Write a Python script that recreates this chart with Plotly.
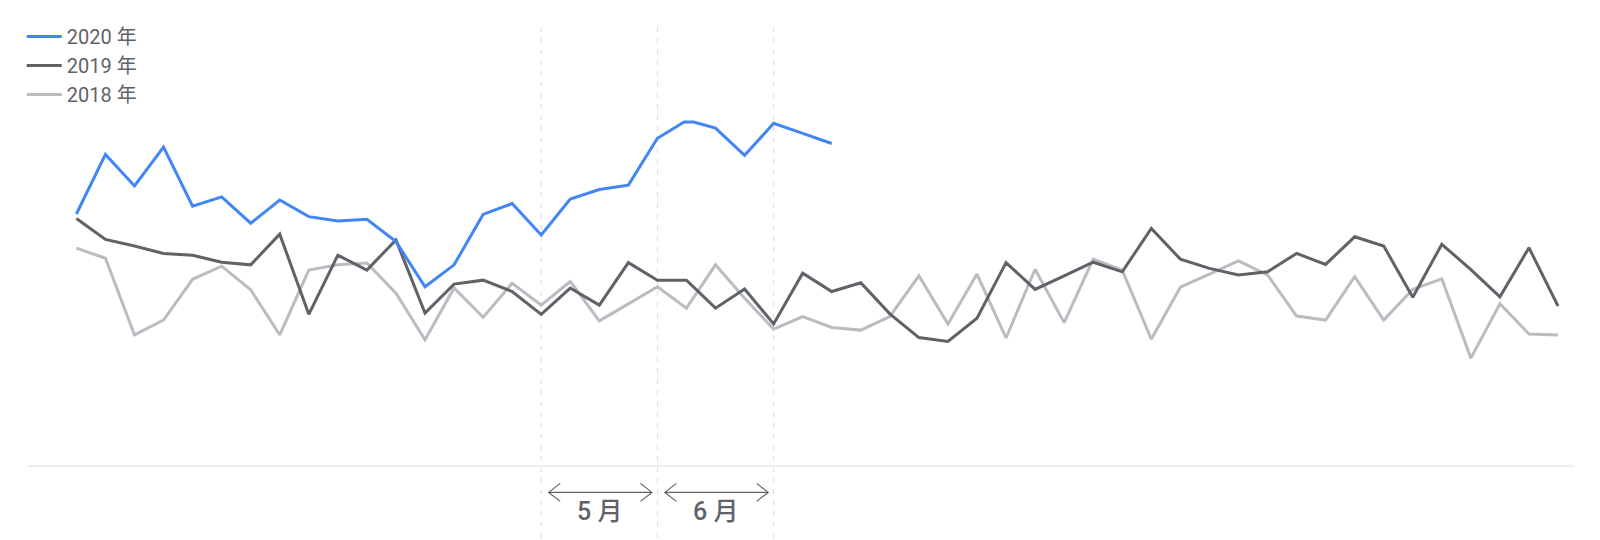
import plotly.graph_objects as go

# ---- data (weekly index, value on 0-100 scale) ----
weeks_2020 = [0, 1, 2, 3, 4, 5, 6, 7, 8, 9, 10, 11, 12, 13, 14, 15, 16, 17, 18, 19, 20,
              20.92, 21.25, 22, 23, 24, 25, 26]
values_2020 = [57.3, 70.9, 63.7, 72.6, 59.1, 61.2, 55.2, 60.5, 56.7, 55.7, 56.1, 51.0,
               40.7, 45.7, 57.2, 59.7, 52.5, 60.7, 62.9, 63.9, 74.6, 78.3, 78.3, 76.9,
               70.7, 78.0, 75.7, 73.4]

weeks = list(range(52))
values_2019 = [56.3, 51.5, 50.0, 48.3, 47.9, 46.3, 45.7, 52.7, 34.4, 47.9, 44.5, 51.4,
               34.7, 41.3, 42.2, 39.6, 34.4, 40.4, 36.5, 46.2, 42.2, 42.2, 35.8, 40.2,
               32.2, 43.8, 39.6, 41.6, 34.5, 29.1, 28.2, 33.5, 46.2, 40.1, 43.2, 46.3,
               44.1, 54.0, 47.0, 44.9, 43.4, 44.1, 48.3, 45.8, 52.1, 50.0, 38.3, 50.4,
               44.6, 38.4, 49.6, 36.3]
values_2018 = [49.5, 47.2, 29.7, 33.1, 42.4, 45.4, 40.0, 29.7, 44.5, 45.7, 46.1, 39.2,
               28.6, 40.4, 33.7, 41.5, 36.5, 41.9, 32.9, 36.8, 40.7, 35.8, 45.7, 38.1,
               31.0, 33.9, 31.4, 30.8, 33.9, 43.2, 32.2, 43.6, 29.0, 44.7, 32.5, 47.0,
               44.5, 28.7, 40.6, 43.6, 46.6, 43.4, 34.0, 33.1, 43.0, 33.1, 40.1, 42.5,
               24.4, 36.8, 29.9, 29.7]

series_names = ["2018 年", "2019 年", "2020 年"]
month_labels = ["5 月", "6 月"]
month_bounds = [16, 20, 24]   # week index where each month starts / ends

# ---- style (page has 8px body margin) ----
W, H = 1600, 540
ML, MR, MT, MB = 19, 34, 19, 82.7
XMIN, XMAX = -1.70, 51.55
TXT = "#5f6368"
FONT = "Roboto, Noto Sans CJK SC, sans-serif"

plot_w = W - ML - MR
plot_h = H - MT - MB
px_per_week = plot_w / (XMAX - XMIN)
base_y = H - MB   # figure pixel row of the baseline

fig = go.Figure()
fig.add_trace(go.Scatter(x=weeks, y=values_2018, mode="lines", name=series_names[0],
                         line=dict(color="#b9bcc1", width=3), legendgroup="a", legendrank=3))
fig.add_trace(go.Scatter(x=weeks, y=values_2019, mode="lines", name=series_names[1],
                         line=dict(color="#5f6368", width=3), legendgroup="b", legendrank=2))
fig.add_trace(go.Scatter(x=weeks_2020, y=values_2020, mode="lines", name=series_names[2],
                         line=dict(color="#4285f4", width=3), legendgroup="c", legendrank=1))

shapes = []
for b in month_bounds:
    shapes.append(dict(type="line", xref="x", yref="paper", x0=b, x1=b,
                       y0=1.0, y1=-(H - base_y) / plot_h,
                       line=dict(color="#dadce0", width=1, dash="5px,6px"),
                       layer="below"))

annotations = []
arrow_y = -(484.7 - base_y) / plot_h
label_y = -(503.7 - base_y) / plot_h
for i, lab in enumerate(month_labels):
    a0, a1 = month_bounds[i], month_bounds[i + 1]
    span = (a1 - a0) * px_per_week
    l, r = 7.5, span - 5.5
    path = (f"M{l + 11.5},9 L{l},0 L{l + 11.5},-9 M{l},0 L{r},0 "
            f"M{r - 11.5},9 L{r},0 L{r - 11.5},-9")
    shapes.append(dict(type="path", xref="x", yref="paper", xsizemode="pixel",
                       ysizemode="pixel", xanchor=a0, yanchor=arrow_y, path=path,
                       line=dict(color=TXT, width=1.2)))
    annotations.append(dict(x=(a0 + a1) / 2, y=label_y, xref="x", yref="paper",
                            text=lab, showarrow=False, xanchor="center", yanchor="middle",
                            font=dict(family=FONT, size=25, color=TXT, weight=500)))

fig.update_layout(
    width=W, height=H,
    margin=dict(l=ML, r=MR, t=MT, b=MB, autoexpand=False),
    paper_bgcolor="white", plot_bgcolor="white",
    font=dict(family=FONT, color=TXT),
    showlegend=True,
    legend=dict(x=-0.0034, y=1.0226, xanchor="left", yanchor="top",
                traceorder="grouped", tracegroupgap=0,
                font=dict(family=FONT, size=20, color=TXT),
                bgcolor="rgba(0,0,0,0)", itemwidth=35),
    xaxis=dict(range=[XMIN, XMAX], showgrid=False, zeroline=False, showticklabels=False,
               ticks="", showline=True, linecolor="#eeeeee", linewidth=2, fixedrange=True),
    yaxis=dict(range=[0, 100], showgrid=False, zeroline=False, showticklabels=False,
               ticks="", showline=False, fixedrange=True),
    shapes=shapes, annotations=annotations,
)

fig.write_html("out.html")
